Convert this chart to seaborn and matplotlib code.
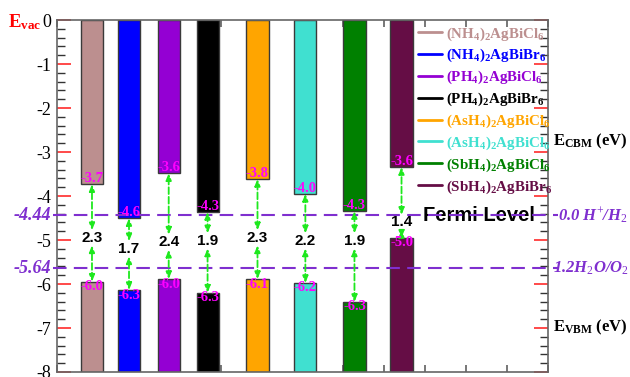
import numpy as np
import pandas as pd
import matplotlib.pyplot as plt
import seaborn as sns

# compounds, left to right (same order in the legend)
compounds = [
    r"$\mathbf{(NH_4)_2AgBiCl_6}$",
    r"$\mathbf{(NH_4)_2AgBiBr_6}$",
    r"$\mathbf{(PH_4)_2AgBiCl_6}$",
    r"$\mathbf{(PH_4)_2AgBiBr_6}$",
    r"$\mathbf{(AsH_4)_2AgBiCl_6}$",
    r"$\mathbf{(AsH_4)_2AgBiCl_6}$",
    r"$\mathbf{(SbH_4)_2AgBiCl_6}$",
    r"$\mathbf{(SbH_4)_2AgBiBr_6}$",
]
bar_colors = ["#bc8f8f", "#0000ff", "#9400d3", "#000000",
              "#ffa500", "#40e0d0", "#008000", "#650d45"]

# band edges vs vacuum (eV), where the bars end in the figure
cbm = [-3.73, -4.50, -3.48, -4.36, -3.61, -3.95, -4.34, -3.34]
vbm = [-5.95, -6.14, -5.89, -6.20, -5.89, -5.98, -6.41, -4.95]

# numbers printed on the plot
cbm_labels = ["-3.7", "-4.6", "-3.6", "-4.3", "-3.8", "-4.0", "-4.3", "-3.6"]
vbm_labels = ["-6.0", "-6.3", "-6.0", "-6.3", "-6.1", "-6.2", "-6.3", "-5.0"]
gap_labels = ["2.3", "1.7", "2.4", "1.9", "2.3", "2.2", "1.9", "1.4"]

# water redox levels
redox_levels = [-4.44, -5.64]
redox_left = ["-4.44", "-5.64"]
redox_right = [r"0.0 H$^{\mathit{+}}$/H$_{\mathit{2}}$", r"1.2H$_{\mathit{2}}$O/O$_{\mathit{2}}$"]

# layout only: bar centres on the (unlabelled) x axis and gap label heights
xpos = [0.855, 1.76, 2.73, 3.68, 4.90, 6.07, 7.27, 8.42]
gap_y = [-4.95, -5.20, -5.05, -5.02, -4.95, -5.02, -5.02, -4.60]
bar_w = 0.54

sns.set_theme(style="white")
plt.rcParams["font.family"] = ["Liberation Serif", "DejaVu Serif"]
plt.rcParams["axes.unicode_minus"] = False
plt.rcParams["text.color"] = "black"
plt.rcParams["ytick.color"] = "black"
plt.rcParams["xtick.color"] = "black"
plt.rcParams["mathtext.fontset"] = "custom"
plt.rcParams["mathtext.rm"] = "Liberation Serif"
plt.rcParams["mathtext.it"] = "Liberation Serif:italic:bold"
plt.rcParams["mathtext.bf"] = "Liberation Serif:bold"

purple = "#7f2fcf"
green = "#1ee81e"
magenta = "#ff00ff"

fig = plt.figure(figsize=(6.3, 3.77), dpi=100)
ax = fig.add_axes([57 / 630, 5 / 377, 491 / 630, 352 / 377])

# ---- bars: CBM hangs from the vacuum level, VBM sits on the bottom ----
df = pd.DataFrame({"x": xpos, "cbm": cbm, "id": [str(i) for i in range(len(xpos))]})
sns.barplot(data=df, x="x", y="cbm", hue="id", palette=bar_colors, native_scale=True,
            orient="x", dodge=False, errorbar=None, saturation=1, legend=False,
            width=bar_w / np.diff(xpos).min(), edgecolor="#3a3a3a", linewidth=1,
            zorder=2, ax=ax)
ymin = -8
ax.bar(xpos, np.array(vbm) - ymin, bottom=ymin, width=bar_w, color=bar_colors,
       edgecolor="#3a3a3a", linewidth=1, zorder=2)

# ---- redox lines ----
for lvl, lt in zip(redox_levels, redox_left):
    ax.axhline(lvl, xmin=-0.008, xmax=1.02, color=purple, lw=1.5, ls=(0, (6.5, 3.5)),
               clip_on=False, zorder=3)
    ax.text(-0.011, lvl, lt, transform=ax.get_yaxis_transform(), ha="right", va="center",
            color=purple, fontsize=13, fontweight="bold", fontstyle="italic")
ax.text(1.020, redox_levels[0], redox_right[0], transform=ax.get_yaxis_transform(),
        ha="left", va="center", color=purple, fontsize=12, fontweight="bold", fontstyle="italic")
ax.text(1.010, redox_levels[1], redox_right[1], transform=ax.get_yaxis_transform(),
        ha="left", va="center", color=purple, fontsize=12, fontweight="bold", fontstyle="italic")

# ---- arrows + numbers ----
arrow = dict(arrowstyle="<|-|>,head_length=0.5,head_width=0.2", ls="--", color=green,
             lw=1.3, shrinkA=0, shrinkB=0, mutation_scale=8)
for i, x in enumerate(xpos):
    ax.annotate("", xy=(x, cbm[i]), xytext=(x, gap_y[i] + 0.17), arrowprops=arrow, zorder=4)
    ax.annotate("", xy=(x, gap_y[i] - 0.17), xytext=(x, vbm[i]), arrowprops=arrow, zorder=4)
    ax.text(x, cbm[i] + 0.13, cbm_labels[i], ha="center", va="center", color=magenta,
            fontsize=10.5, fontweight="bold", zorder=5)
    ax.text(x, vbm[i] - 0.11, vbm_labels[i], ha="center", va="center", color=magenta,
            fontsize=10.5, fontweight="bold", zorder=5)
    ax.text(x, gap_y[i], gap_labels[i], ha="center", va="center", color="black",
            fontsize=11, fontweight="bold", family="Liberation Sans", zorder=5)

ax.text(10.31, redox_levels[0], "Fermi Level", ha="center", va="center", fontsize=14.5,
        fontweight="bold", family="Liberation Sans", color="black", zorder=2)

# ---- legend ----
handles = [ax.plot([], [], color=c, lw=2, label=n)[0] for c, n in zip(bar_colors, compounds)]
ax.legend(handles=handles, loc="upper left", bbox_to_anchor=(0.735, 0.985), frameon=False,
          prop=dict(family="Liberation Serif", weight="bold", size=10.8), labelcolor="linecolor",
          handlelength=1.6, handletextpad=0.3, labelspacing=0.3, borderpad=0, borderaxespad=0)

# ---- axes ----
ax.set_xlim(0, 12)
ax.set_ylim(-8, 0)
ax.set_xlabel("")
ax.set_ylabel("")
ax.set_xticks(range(13))
ax.set_yticks(range(-8, 1))
ax.set_yticks(np.arange(-8, 0.01, 0.2), minor=True)
ax.tick_params(axis="x", which="major", direction="in", length=5, color="#666666",
               top=True, bottom=True, labelbottom=False)
ax.tick_params(axis="y", which="major", direction="in", length=10, color="#ff3333",
               left=True, right=True, labelsize=13, pad=4, labelcolor="black")
ax.tick_params(axis="y", which="minor", direction="in", length=6, color="#333333",
               left=True, right=True)
for s in ax.spines.values():
    s.set_color("#666666")
    s.set_linewidth(1.2)

fig.text(41 / 630, 1 - 27 / 377, r"$\mathbf{E_{vac}}$", ha="right", va="baseline",
         color="red", fontsize=13.5)
fig.text(553 / 630, 1 - 145 / 377, r"$\mathbf{E_{CBM}}$ (eV)", ha="left", va="baseline",
         fontsize=12, fontweight="bold")
fig.text(553 / 630, 1 - 331 / 377, r"$\mathbf{E_{VBM}}$ (eV)", ha="left", va="baseline",
         fontsize=12, fontweight="bold")

fig.savefig("out.png", dpi=100)
